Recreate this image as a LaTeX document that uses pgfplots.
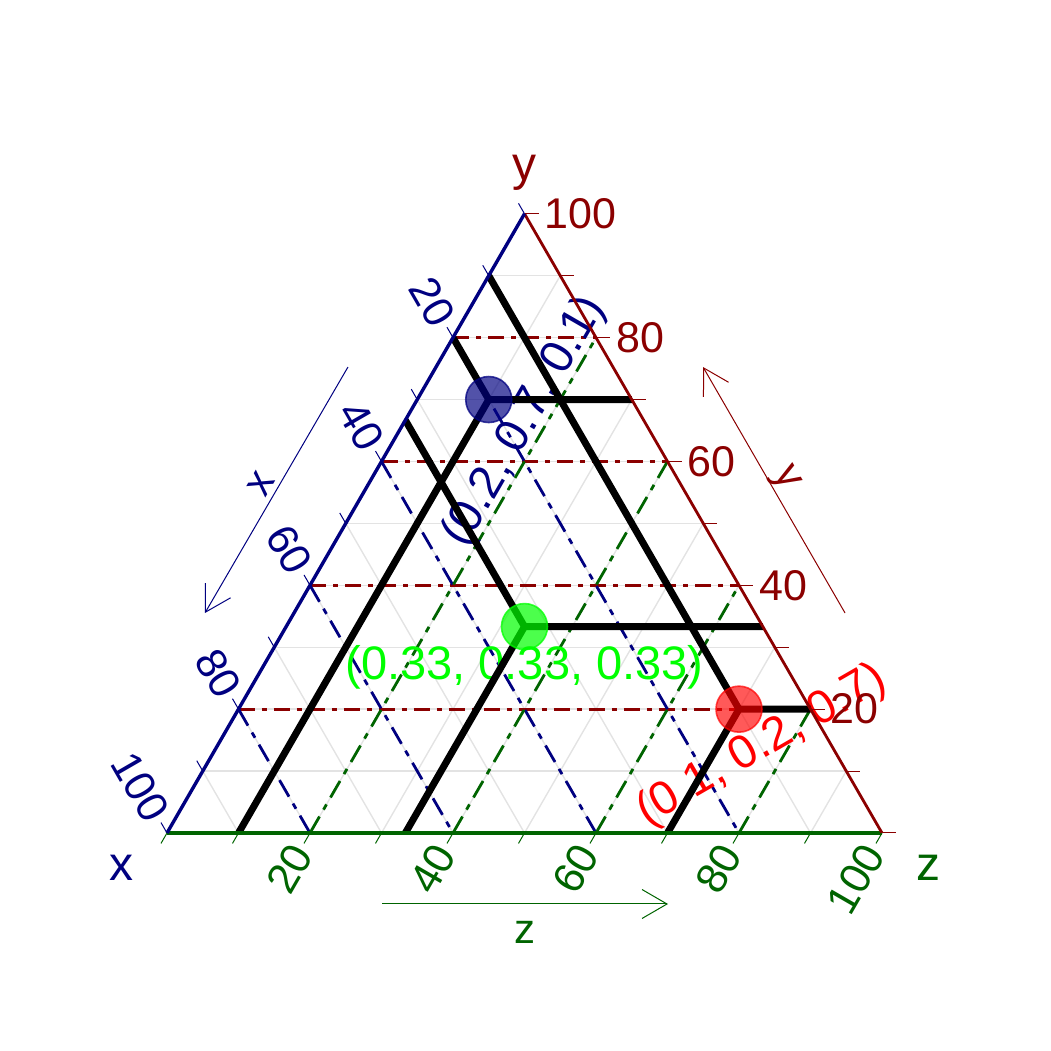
\documentclass[border=0pt]{standalone}
\usepackage{fontspec}
\setmainfont{Liberation Sans}
\usepackage{pgfplots}
\pgfplotsset{compat=1.18}
\usetikzlibrary{arrows.meta}
\definecolor{navyc}{HTML}{000080}
\definecolor{dred}{HTML}{8B0000}
\definecolor{dgreen}{HTML}{006400}
\definecolor{lgray}{HTML}{E3E3E3}
\definecolor{limec}{HTML}{00FF00}
\pgfplotsset{/pgfplots/table/tern/.style={x expr={\thisrow{z}+0.5*\thisrow{y}}, y expr={0.8660254*\thisrow{y}}}}
\newcommand{\fs}[1]{\fontsize{#1}{#1}\selectfont}
\tikzset{dd/.style={dash pattern=on 8bp off 3.5bp on 2.5bp off 3.5bp},
         ddb/.style={dash pattern=on 9.5bp off 4bp on 3bp off 4bp}}
\begin{document}
\begin{tikzpicture}
\begin{axis}[x=357.5bp, y=357.5bp, xmin=-0.233566, xmax=1.236364, ymin=-0.304895, ymax=1.165035, hide axis, clip=false]
\coordinate (bbl) at (axis cs:-0.233566,-0.304895);
\coordinate (btr) at (axis cs:1.236364,1.165035);
% minor grid
\addplot[lgray, line width=0.7bp, quiver={u={1-\thisrow{y}}, v=0}] table[tern] {
x y z
0.9 0.1 0
0.8 0.2 0
0.7 0.3 0
0.6 0.4 0
0.5 0.5 0
0.4 0.6 0
0.3 0.7 0
0.2 0.8 0
0.1 0.9 0
};
\addplot[lgray, line width=0.7bp, quiver={u={(1-\thisrow{x})/2}, v={-0.8660254*(1-\thisrow{x})}}] table[tern] {
x y z
0.9 0.1 0
0.8 0.2 0
0.7 0.3 0
0.6 0.4 0
0.5 0.5 0
0.4 0.6 0
0.3 0.7 0
0.2 0.8 0
0.1 0.9 0
};
\addplot[lgray, line width=0.7bp, quiver={u={(1-\thisrow{z})/2}, v={0.8660254*(1-\thisrow{z})}}] table[tern] {
x y z
0.9 0 0.1
0.8 0 0.2
0.7 0 0.3
0.6 0 0.4
0.5 0 0.5
0.4 0 0.6
0.3 0 0.7
0.2 0 0.8
0.1 0 0.9
};
% major dashed grid
\addplot[dred, line width=1.6bp, dd, quiver={u={1-\thisrow{y}}, v=0}] table[tern] {
x y z
0.8 0.2 0
0.6 0.4 0
0.4 0.6 0
0.2 0.8 0
};
\addplot[navyc, line width=1.4bp, ddb, quiver={u={(1-\thisrow{x})/2}, v={-0.8660254*(1-\thisrow{x})}}] table[tern] {
x y z
0.2 0.8 0
0.4 0.6 0
0.6 0.4 0
0.8 0.2 0
};
\addplot[dgreen, line width=1.4bp, ddb, quiver={u={(1-\thisrow{z})/2}, v={0.8660254*(1-\thisrow{z})}}] table[tern] {
x y z
0.8 0 0.2
0.6 0 0.4
0.4 0 0.6
0.2 0 0.8
};
% points
\addplot[only marks, mark=*, mark size=11.5bp, mark options={fill=navyc, draw=navyc, line width=0.8bp, fill opacity=0.68, draw opacity=0.75}] table[tern] {
x y z
0.2 0.7 0.1
};
\addplot[only marks, mark=*, mark size=11.5bp, mark options={fill=limec, draw=limec, line width=0.8bp, fill opacity=0.7, draw opacity=0.75}] table[tern] {
x y z
0.33333 0.33333 0.33333
};
\addplot[only marks, mark=*, mark size=11.5bp, mark options={fill=red, draw=red, line width=0.8bp, fill opacity=0.65, draw opacity=0.7}] table[tern] {
x y z
0.1 0.2 0.7
};
% point labels
\node[text=limec, font=\fs{23.5bp}, inner sep=0pt] at (axis cs:0.5,0.2322) {(0.33, 0.33, 0.33)};
\node[text=navyc, font=\fs{23.5bp}, inner sep=0pt, rotate=60] at (axis cs:0.5007,0.5755) {(0.2, 0.7, 0.1)};
\node[text=red, font=\fs{23.5bp}, inner sep=0pt, rotate=30] at (axis cs:0.8322,0.1217) {(0.1, 0.2, 0.7)};
% black reading lines
\addplot[black, line width=3.5bp, line join=round] table[tern] {
x y z
0 0.7 0.3
0.2 0.7 0.1
0.9 0 0.1
};
\addplot[black, line width=3.5bp] table[tern] {
x y z
0.2 0.7 0.1
0.2 0.8 0
};
\addplot[black, line width=3.5bp, line join=round] table[tern] {
x y z
0 0.33333 0.66667
0.33333 0.33333 0.33333
0.66667 0 0.33333
};
\addplot[black, line width=3.5bp] table[tern] {
x y z
0.33333 0.33333 0.33333
0.33333 0.66667 0
};
\addplot[black, line width=3.5bp, line join=round] table[tern] {
x y z
0 0.2 0.8
0.1 0.2 0.7
0.3 0 0.7
};
\addplot[black, line width=3.5bp] table[tern] {
x y z
0.1 0.2 0.7
0.1 0.9 0
};
% edges
\addplot[dgreen, line width=1.8bp] table[tern] {
x y z
1 0 0
0 0 1
};
\addplot[dred, line width=1.4bp] table[tern] {
x y z
0 0 1
0 1 0
};
\addplot[navyc, line width=1.7bp] table[tern] {
x y z
1 0 0
0 1 0
};
% ticks
\addplot[navyc, line width=0.5bp, quiver={u=-0.0084, v=0.01455}] table[tern] {
x y z
0 1 0
0.1 0.9 0
0.2 0.8 0
0.3 0.7 0
0.4 0.6 0
0.5 0.5 0
0.6 0.4 0
0.7 0.3 0
0.8 0.2 0
0.9 0.1 0
1 0 0
};
\addplot[dgreen, line width=0.5bp, quiver={u=-0.0084, v=-0.01455}] table[tern] {
x y z
1 0 0
0.9 0 0.1
0.8 0 0.2
0.7 0 0.3
0.6 0 0.4
0.5 0 0.5
0.4 0 0.6
0.3 0 0.7
0.2 0 0.8
0.1 0 0.9
0 0 1
};
\addplot[dred, line width=0.5bp, quiver={u=0.0196, v=0}] table[tern] {
x y z
0 0 1
0 0.1 0.9
0 0.2 0.8
0 0.3 0.7
0 0.4 0.6
0 0.5 0.5
0 0.6 0.4
0 0.7 0.3
0 0.8 0.2
0 0.9 0.1
0 1 0
};
% tick labels
\begin{scope}[every node/.style={font=\fs{21.5bp}, inner sep=0pt}]
\node[text=navyc, rotate=-60, anchor=east] at (axis cs:0.3881,0.7134) {20};
\node[text=navyc, rotate=-60, anchor=east] at (axis cs:0.2881,0.5402) {40};
\node[text=navyc, rotate=-60, anchor=east] at (axis cs:0.1881,0.3670) {60};
\node[text=navyc, rotate=-60, anchor=east] at (axis cs:0.0881,0.1938) {80};
\node[text=navyc, rotate=-60, anchor=east] at (axis cs:-0.0119,0.0206) {100};
\node[text=dgreen, rotate=60, anchor=east] at (axis cs:0.1881,-0.0206) {20};
\node[text=dgreen, rotate=60, anchor=east] at (axis cs:0.3881,-0.0206) {40};
\node[text=dgreen, rotate=60, anchor=east] at (axis cs:0.5881,-0.0206) {60};
\node[text=dgreen, rotate=60, anchor=east] at (axis cs:0.7881,-0.0206) {80};
\node[text=dgreen, rotate=60, anchor=east] at (axis cs:0.9881,-0.0206) {100};
\node[text=dred, anchor=west] at (axis cs:0.928,0.1732) {20};
\node[text=dred, anchor=west] at (axis cs:0.828,0.3464) {40};
\node[text=dred, anchor=west] at (axis cs:0.728,0.5196) {60};
\node[text=dred, anchor=west] at (axis cs:0.628,0.6928) {80};
\node[text=dred, anchor=west] at (axis cs:0.528,0.8660) {100};
\end{scope}
% axis titles
\node[text=dred, font=\fs{24bp}, inner sep=0pt] at (axis cs:0.4993,0.9231) {y};
\node[text=navyc, font=\fs{24bp}, inner sep=0pt] at (axis cs:-0.0636,-0.049) {x};
\node[text=dgreen, font=\fs{24bp}, inner sep=0pt] at (axis cs:1.065,-0.049) {z};
% direction arrows
\addplot[navyc, line width=0.5bp, -{Straight Barb[length=12.5bp, width=14.5bp]}] coordinates {(0.2531,0.6517) (0.0531,0.3077)};
\addplot[dred, line width=0.5bp, -{Straight Barb[length=12.5bp, width=14.5bp]}] coordinates {(0.9483,0.3077) (0.7497,0.6517)};
\addplot[dgreen, line width=0.5bp, -{Straight Barb[length=12.5bp, width=14.5bp]}] coordinates {(0.3007,-0.0993) (0.7007,-0.0993)};
\node[text=navyc, font=\fs{21bp}, inner sep=0pt, rotate=60] at (axis cs:0.1322,0.4888) {x};
\node[text=dred, font=\fs{21bp}, inner sep=0pt, rotate=-60] at (axis cs:0.8643,0.4951) {y};
\node[text=dgreen, font=\fs{21bp}, inner sep=0pt] at (axis cs:0.5007,-0.1385) {z};
\end{axis}
\useasboundingbox (bbl) rectangle (btr);
\end{tikzpicture}
\end{document}
